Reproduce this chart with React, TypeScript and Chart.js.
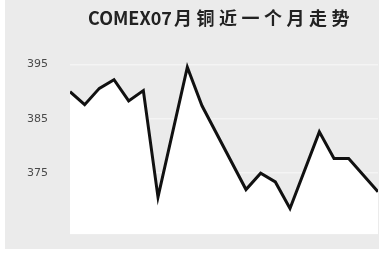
import React, { useEffect, useRef } from "react";
import { Chart, registerables } from "chart.js";

Chart.register(...registerables);

const titleLatin = "COMEX07";
const titleCjk = "月铜近一个月走势";
const days = [0, 1, 2, 3, 4, 5, 6, 8, 9, 12, 13, 14, 15, 17, 18, 19, 21];
const prices = [390.0, 387.6, 390.6, 392.2, 388.3, 390.2, 370.6, 394.5, 387.4, 372.0, 375.0, 373.4, 368.5, 382.6, 377.7, 377.7, 371.6];
const yTicks = [375, 385, 395];

const bgPlugin = {
  id: "bgPanel",
  beforeDraw(chart: any) {
    const ctx = chart.ctx;
    ctx.save();
    ctx.fillStyle = "#ffffff";
    ctx.fillRect(0, 0, chart.width, chart.height);
    ctx.fillStyle = "#ebebeb";
    ctx.fillRect(5, 0, chart.width - 5, 249);
    ctx.restore();
  },
  afterDraw(chart: any) {
    const ctx = chart.ctx;
    ctx.save();
    ctx.fillStyle = "#222222";
    ctx.textBaseline = "middle";
    ctx.textAlign = "left";
    const font = 'bold 18px "Noto Sans CJK SC", "DejaVu Sans", sans-serif';
    ctx.font = font;
    (ctx as any).letterSpacing = "0px";
    const w1 = ctx.measureText(titleLatin).width;
    (ctx as any).letterSpacing = "4.5px";
    const w2 = ctx.measureText(titleCjk).width;
    const total = w1 + 2 + w2;
    const x0 = 221 - total / 2;
    (ctx as any).letterSpacing = "0px";
    ctx.fillText(titleLatin, x0, 18);
    (ctx as any).letterSpacing = "4.5px";
    ctx.fillText(titleCjk, x0 + w1 + 2, 18);
    ctx.restore();
  },
};

export default function App() {
  const ref = useRef<HTMLCanvasElement | null>(null);
  useEffect(() => {
    if (!ref.current) return;
    const chart = new Chart(ref.current, {
      type: "line",
      data: {
        datasets: [
          {
            data: days.map((d, i) => ({ x: d, y: prices[i] })),
            borderColor: "#111111",
            borderWidth: 3,
            pointRadius: 0,
            tension: 0,
            fill: "start",
            backgroundColor: "#ffffff",
          },
        ],
      },
      options: {
        animation: false,
        responsive: false,
        layout: { autoPadding: false, padding: { top: 59, bottom: 23, right: 1, left: 0 } },
        plugins: { legend: { display: false }, tooltip: { enabled: false }, title: { display: false } },
        scales: {
          x: { type: "linear", min: 0, max: 21, display: false },
          y: {
            min: 363.75,
            max: 396,
            afterBuildTicks(scale: any) {
              scale.ticks = yTicks.map((v) => ({ value: v }));
            },
            afterFit(scale: any) {
              scale.width = 70;
            },
            border: { display: false },
            grid: { color: "#f4f4f4", lineWidth: 1.5, drawTicks: false },
            ticks: {
              padding: 22,
              color: "#4a4a4a",
              font: { family: "DejaVu Sans", size: 11 },
              callback: (v: any) => String(v),
            },
          },
        },
      },
      plugins: [bgPlugin],
    });
    return () => chart.destroy();
  }, []);
  return (
    <div style={{ position: "absolute", left: 0, top: 0, width: 379, height: 263 }}>
      <canvas ref={ref} width={379} height={263} style={{ width: 379, height: 263, display: "block" }} />
    </div>
  );
}
